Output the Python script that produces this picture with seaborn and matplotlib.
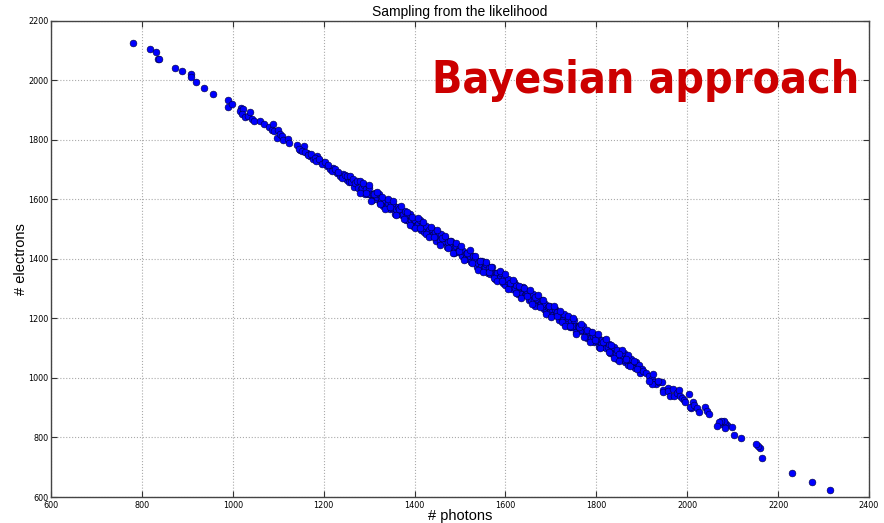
import matplotlib
matplotlib.use("Agg")
import matplotlib.pyplot as plt
import seaborn as sns
import pandas as pd

# Samples drawn from the likelihood: photon count vs electron count
photons_head = [780, 817, 831, 835, 837, 872, 889, 908, 908, 920, 937, 957,
                989, 990, 998, 1017, 1016, 1022, 1020, 1026, 1033, 1037, 1043,
                1047, 1060, 1069, 1079]
electrons_head = [2126, 2104, 2096, 2072, 2070, 2041, 2030, 2020, 2011, 1995,
                  1975, 1952, 1932, 1911, 1920, 1908, 1897, 1902, 1888, 1877,
                  1879, 1893, 1868, 1864, 1863, 1854, 1844]

photons_upper = [1088, 1086, 1091, 1097, 1100, 1104, 1108, 1111, 1121, 1124,
                 1142, 1149, 1157, 1163, 1170, 1177, 1186, 1192, 1201, 1207,
                 1214, 1221, 1229, 1236, 1243, 1251, 1145, 1152, 1160, 1166,
                 1173, 1180, 1184, 1190, 1196, 1204, 1210, 1218, 1225, 1232,
                 1240, 1246]
electrons_upper = [1854, 1834, 1828, 1806, 1834, 1820, 1811, 1800, 1802, 1789,
                   1781, 1767, 1778, 1755, 1744, 1735, 1744, 1727, 1722, 1711,
                   1700, 1705, 1688, 1677, 1686, 1666, 1770, 1762, 1760, 1750,
                   1752, 1737, 1728, 1735, 1718, 1725, 1715, 1696, 1700, 1692,
                   1672, 1680]

photons_core = [
    1252, 1255, 1258, 1261, 1264, 1267, 1270, 1273, 1276, 1279, 1282, 1285,
    1288, 1291, 1294, 1297, 1300, 1303, 1306, 1309, 1312, 1315, 1318, 1321,
    1324, 1327, 1330, 1333, 1336, 1339, 1342, 1345, 1348, 1351, 1354, 1357,
    1360, 1363, 1366, 1369, 1372, 1375, 1378, 1381, 1384, 1387, 1390, 1393,
    1396, 1399, 1402, 1405, 1408, 1411, 1414, 1417, 1420, 1423, 1426, 1429,
    1432, 1435, 1438, 1441, 1444, 1447, 1450, 1453, 1456, 1459, 1462, 1465,
    1468, 1471, 1474, 1477, 1480, 1483, 1486, 1489, 1492, 1495, 1498, 1501,
    1504, 1507, 1510, 1513, 1516, 1519, 1522, 1525, 1528, 1531, 1534, 1537,
    1540, 1543, 1546, 1549, 1552, 1555, 1558, 1561, 1564, 1567, 1570, 1573,
    1576, 1579, 1582, 1585, 1588, 1591, 1594, 1597, 1600, 1603, 1606, 1609,
    1612, 1615, 1618, 1621, 1624, 1627, 1630, 1633, 1636, 1639, 1642, 1645,
    1648, 1651, 1654, 1657, 1660, 1663, 1666, 1669, 1672, 1675, 1678, 1681,
    1684, 1687, 1690, 1693, 1696, 1699, 1702, 1705, 1708, 1711, 1714, 1717,
    1720, 1723, 1726, 1729, 1732, 1735, 1738, 1741, 1744, 1747, 1750, 1753,
    1756, 1759, 1762, 1765, 1768, 1771, 1774, 1777, 1780, 1783, 1786, 1789,
    1792, 1795, 1798, 1801, 1804, 1807, 1810, 1813, 1816, 1819, 1822, 1825,
    1828, 1831, 1834, 1837, 1840, 1843, 1846, 1849, 1852, 1855, 1858, 1861,
    1864, 1867, 1870, 1873, 1876, 1879, 1882, 1885, 1888, 1891, 1894, 1897,
    1900]
electrons_core = [
    1677, 1657, 1679, 1658, 1668, 1640, 1655, 1662, 1639, 1661, 1635, 1638,
    1648, 1618, 1636, 1616, 1638, 1618, 1599, 1618, 1621, 1601, 1606, 1618,
    1587, 1604, 1578, 1593, 1598, 1579, 1587, 1567, 1589, 1569, 1579, 1551,
    1566, 1573, 1550, 1572, 1546, 1549, 1559, 1529, 1547, 1527, 1549, 1529,
    1510, 1529, 1532, 1512, 1517, 1529, 1498, 1515, 1489, 1504, 1509, 1490,
    1498, 1478, 1500, 1479, 1489, 1461, 1477, 1484, 1461, 1483, 1457, 1460,
    1470, 1440, 1458, 1438, 1460, 1440, 1421, 1440, 1443, 1423, 1428, 1440,
    1409, 1426, 1400, 1415, 1420, 1401, 1409, 1389, 1411, 1390, 1400, 1372,
    1387, 1394, 1371, 1393, 1368, 1371, 1381, 1351, 1369, 1349, 1371, 1351,
    1332, 1351, 1354, 1334, 1339, 1351, 1320, 1337, 1311, 1326, 1331, 1312,
    1320, 1300, 1322, 1301, 1311, 1283, 1298, 1305, 1282, 1304, 1278, 1281,
    1291, 1262, 1280, 1260, 1282, 1262, 1243, 1262, 1265, 1245, 1250, 1262,
    1231, 1248, 1222, 1237, 1242, 1223, 1231, 1211, 1233, 1212, 1222, 1194,
    1209, 1216, 1193, 1215, 1189, 1192, 1202, 1172, 1190, 1170, 1193, 1173,
    1154, 1173, 1176, 1156, 1161, 1173, 1142, 1159, 1133, 1148, 1153, 1134,
    1142, 1122, 1144, 1123, 1133, 1105, 1120, 1127, 1104, 1126, 1100, 1103,
    1113, 1083, 1101, 1081, 1103, 1083, 1064, 1083, 1087, 1067, 1072, 1084,
    1053, 1070, 1044, 1059, 1064, 1045, 1053, 1033, 1055, 1034, 1044, 1016,
    1031]

# Outer edge of the dense band
photons_edge = [
    1281, 1287, 1293, 1299, 1305, 1311, 1317, 1323, 1329, 1335, 1341, 1347,
    1353, 1359, 1365, 1371, 1377, 1383, 1389, 1395, 1401, 1407, 1413, 1419,
    1425, 1431, 1437, 1443, 1449, 1455, 1461, 1467, 1473, 1479, 1485, 1491,
    1497, 1503, 1509, 1515, 1521, 1527, 1533, 1539, 1545, 1551, 1557, 1563,
    1569, 1575, 1581, 1587, 1593, 1599, 1605, 1611, 1617, 1623, 1629, 1635,
    1641, 1647, 1653, 1659, 1665, 1671, 1677, 1683, 1689, 1695, 1701, 1707,
    1713, 1719, 1725, 1731, 1737, 1743, 1749, 1755, 1761, 1767, 1773, 1779,
    1785, 1791, 1797, 1803, 1809, 1815, 1821, 1827, 1833, 1839, 1845, 1851,
    1857, 1863, 1869, 1875]
electrons_edge = [
    1621, 1655, 1621, 1647, 1594, 1617, 1626, 1583, 1607, 1566, 1600, 1573,
    1593, 1546, 1568, 1577, 1534, 1557, 1512, 1540, 1503, 1538, 1505, 1522,
    1484, 1472, 1506, 1472, 1498, 1446, 1469, 1478, 1435, 1459, 1418, 1452,
    1425, 1444, 1397, 1419, 1428, 1385, 1408, 1363, 1391, 1355, 1390, 1357,
    1374, 1336, 1324, 1358, 1324, 1350, 1297, 1320, 1329, 1286, 1310, 1269,
    1303, 1276, 1296, 1249, 1271, 1280, 1237, 1260, 1215, 1243, 1206, 1241,
    1208, 1225, 1187, 1175, 1209, 1175, 1201, 1149, 1172, 1181, 1138, 1162,
    1121, 1155, 1128, 1147, 1100, 1122, 1131, 1088, 1111, 1066, 1094, 1058,
    1093, 1060, 1077, 1039]

photons_tail = [1851, 1866, 1882, 1889, 1903, 1910, 1917, 1923, 1928, 1932,
                1938, 1944, 1922, 1916, 1924, 1935, 1946, 1946, 1957, 1957,
                1962, 1969, 1972, 1978, 1981, 1985, 1988, 1994, 1996, 2005,
                2009, 2007, 2012, 2014, 2022, 2027, 2039, 2043, 2047, 2077,
                2087, 2084, 2080, 2075, 2071, 2065, 2083, 2098, 2103, 2119,
                2160, 2155, 2151, 2164, 2231, 2274, 2314]
electrons_tail = [1080, 1063, 1057, 1030, 1024, 1016, 1007, 996, 987, 980,
                  985, 985, 980, 991, 1013, 991, 960, 953, 965, 955,
                  940, 962, 938, 948, 958, 940, 932, 927, 918, 945,
                  898, 903, 920, 909, 900, 884, 903, 889, 878, 846,
                  843, 848, 854, 854, 851, 837, 832, 836, 809, 797,
                  764, 770, 779, 730, 680, 651, 622]

x_ticks = [600, 800, 1000, 1200, 1400, 1600, 1800, 2000, 2200, 2400]
y_ticks = [600, 800, 1000, 1200, 1400, 1600, 1800, 2000, 2200]

df = pd.DataFrame({
    "photons": photons_head + photons_upper + photons_core + photons_edge + photons_tail,
    "electrons": electrons_head + electrons_upper + electrons_core + electrons_edge + electrons_tail,
})

plt.rcParams["font.family"] = ["Liberation Sans", "DejaVu Sans"]

fig = plt.figure(figsize=(8.84, 5.23), dpi=100)
ax = fig.add_axes([0.0577, 0.0497, 0.9253, 0.9109])

sns.scatterplot(data=df, x="photons", y="electrons", ax=ax, color="#0000ff",
                edgecolor="#000033", linewidth=0.4, s=24, zorder=3)

ax.set_xlim(600, 2400)
ax.set_ylim(600, 2200)
ax.set_xticks(x_ticks)
ax.set_yticks(y_ticks)
ax.tick_params(direction="in", length=4, width=0.8, labelsize=6.5, top=True,
               right=True, colors="#333333", labelcolor="black")
ax.tick_params(axis="x", pad=3)
ax.tick_params(axis="y", pad=2)
for lab in ax.get_xticklabels() + ax.get_yticklabels():
    lab.set_family("DejaVu Sans")
    lab.set_fontstretch("condensed")
ax.grid(True, linestyle=":", color="#aaaaaa", linewidth=0.8)
for sp in ax.spines.values():
    sp.set_color("#444444")
    sp.set_linewidth(1.0)

ax.set_xlabel("# photons", fontsize=10.5, labelpad=-1)
ax.set_ylabel("# electrons", fontsize=10.5, labelpad=0)
ax.set_title("Sampling from the likelihood", fontsize=10, pad=3)

fig.text(0.7308, 0.822, "Bayesian approach", color="#cc0000",
         fontsize=32, fontweight="bold", ha="center", va="baseline",
         family=["DejaVu Sans"], fontstretch="condensed")

fig.savefig("out.png", dpi=100)
